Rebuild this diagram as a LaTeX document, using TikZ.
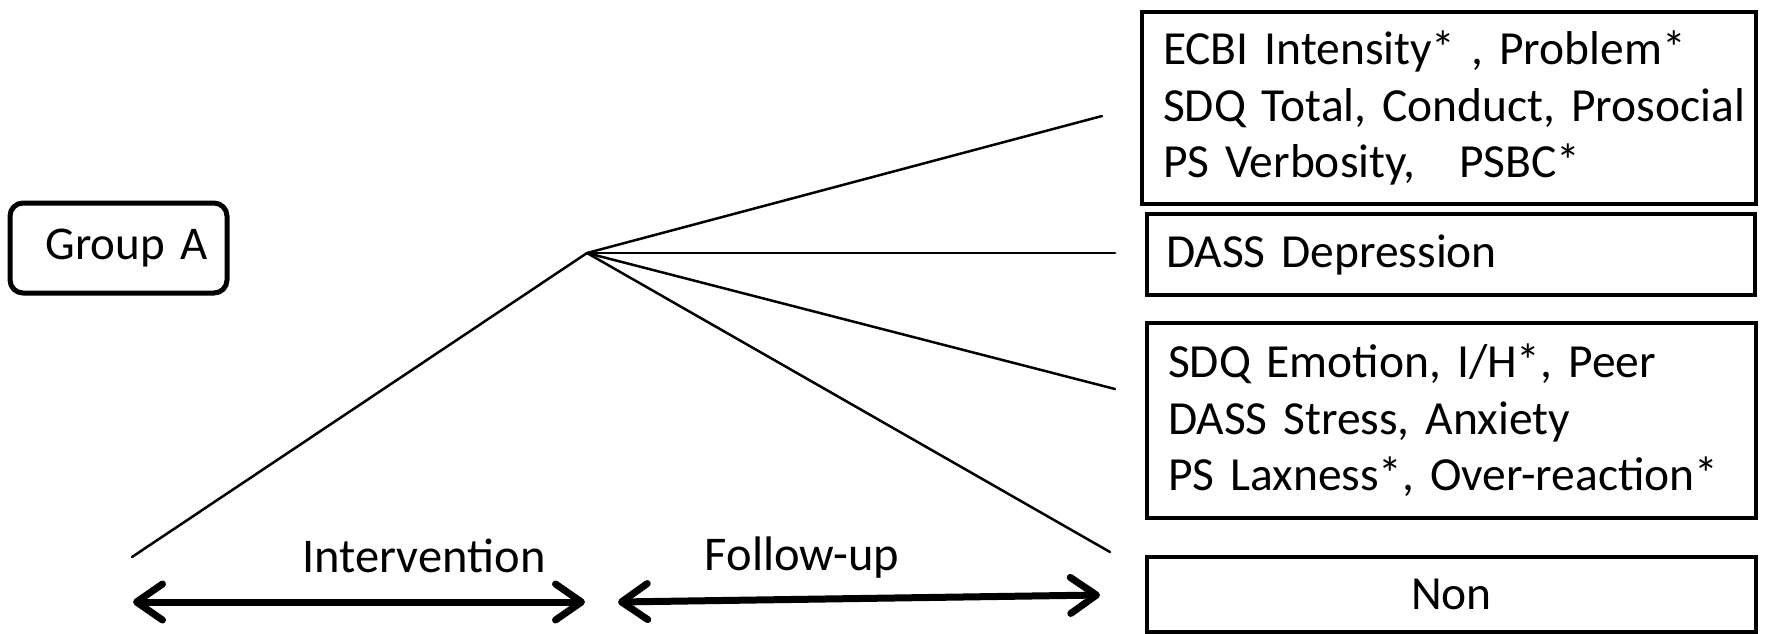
\documentclass[tikz,border=0pt]{standalone}
\usepackage{fontspec}
\setmainfont{Carlito}
\usetikzlibrary{arrows.meta}
\newcommand{\tightsp}{\spaceskip=0.85\fontdimen2\font plus 0pt minus 0pt\relax}
\begin{document}
\begin{tikzpicture}[x=1pt,y=-1pt,
  box/.style={draw, line width=4pt, rectangle, inner xsep=21pt, inner ysep=0pt, align=left, font=\fontsize{47.5}{56.5}\selectfont\tightsp},
  grp/.style={draw, line width=5pt, rectangle, rounded corners=13pt, inner xsep=19pt, inner ysep=0pt, align=right, font=\fontsize{47}{56}\selectfont},
  lbl/.style={font=\fontsize{48.5}{56}\selectfont, inner sep=0pt, anchor=base},
  fan/.style={line width=2.5pt, line cap=round},
  span/.style={line width=7pt, line cap=round,
    {Straight Barb[length=26pt,width=36pt,line cap=round,line join=round]}-{Straight Barb[length=26pt,width=36pt,line cap=round,line join=round]}}
]
\useasboundingbox (0,0) rectangle (1766,633);
% boxes
\node[grp, minimum width=217pt, minimum height=90pt, text width=179pt] (ga) at (118.5,248) {Group A};
\node[box, minimum width=614pt, minimum height=192pt, text width=572pt] (b1) at (1449,108)
  {\mbox{ECBI Intensity* , Problem*}\\\mbox{SDQ Total, Conduct, Prosocial}\\\mbox{PS Verbosity,\hspace{44pt}PSBC*}};
\node[box, inner xsep=19pt, minimum width=608pt, minimum height=81pt, text width=570pt] (b2) at (1451,254.5)
  {\mbox{DASS Depression}};
\node[box, minimum width=609pt, minimum height=195pt, text width=567pt] (b3) at (1451.5,420.5)
  {\mbox{SDQ Emotion, I/H*, Peer}\\\mbox{DASS Stress, Anxiety}\\\mbox{PS Laxness*, Over-reaction*}};
\node[box, align=center, minimum width=609pt, minimum height=75pt, text width=567pt] (b4) at (1451.5,594.5)
  {Non};
% fan
\coordinate (apex) at (587,253);
\coordinate (s) at (132,557);
\coordinate (e1) at (1102,116);
\coordinate (e2) at (1115,253);
\coordinate (e3) at (1115,389);
\coordinate (e4) at (1110,552);
\draw[fan] (s) -- (apex);
\draw[fan] (apex) -- (e1);
\draw[fan] (apex) -- (e2);
\draw[fan] (apex) -- (e3);
\draw[fan] (apex) -- (e4);
% time spans
\coordinate (i1) at (133,602);
\coordinate (i2) at (585,602);
\coordinate (f1) at (618,602);
\coordinate (f2) at (1100,595);
\draw[span] (i1) -- (i2);
\draw[span] (f1) -- (f2);
\node[lbl] (tint) at (424,572) {Intervention};
\node[lbl] (tfol) at (802,570) {Follow-up};
\end{tikzpicture}
\end{document}
